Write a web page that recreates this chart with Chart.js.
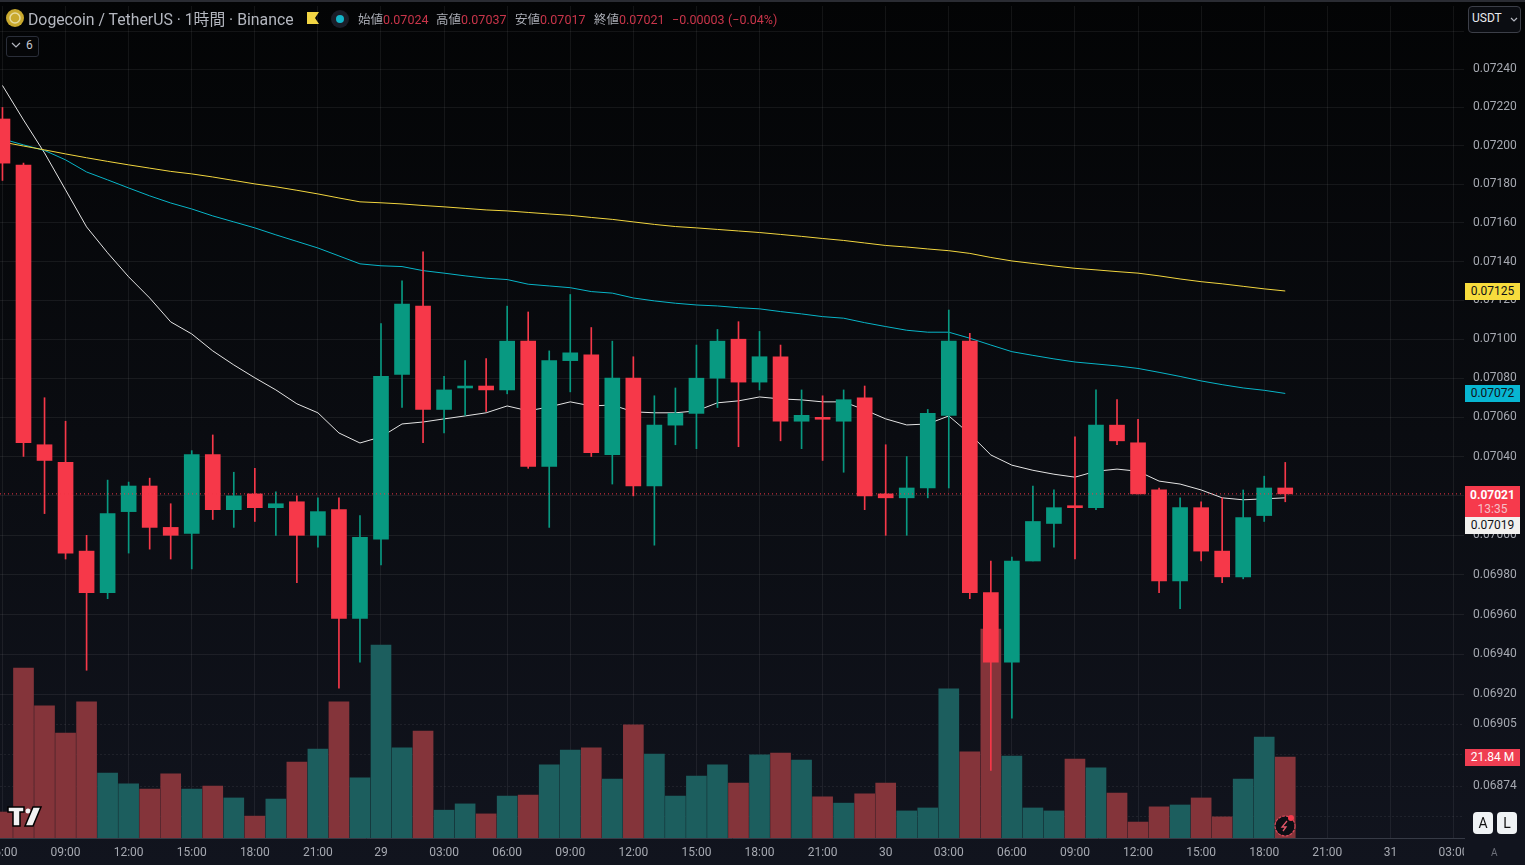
<!DOCTYPE html>
<html lang="ja">
<head>
<meta charset="utf-8">
<title>DOGEUSDT 1H</title>
<script src="https://cdn.jsdelivr.net/npm/chart.js@4"></script>
<style>
    html, body { margin: 0; padding: 0; width: 1525px; height: 865px; overflow: hidden; }
    body { background: linear-gradient(#030405 0, #0a0c11 50%, #11141e 100%); font-family: Roboto, "Noto Sans CJK JP", sans-serif; position: relative; }
    canvas { position: absolute; left: 0; top: 0; }
    .topbar { position: absolute; left: 0; top: 0; width: 1525px; height: 2px; background: #2a2c33; }
    .abs { position: absolute; white-space: nowrap; }
    .title { left: 28px; top: 10px; font-size: 15.8px; line-height: 20px; color: #b4b7bf; }
    .ohlc { top: 12px; font-size: 12.5px; line-height: 16px; color: #a9acb4; }
    .red { color: #c9354a; }
    .tag { left: 1465px; width: 55px; text-align: center; font-size: 12px; line-height: 17px; height: 17px; color: #101218; }
    .corner { left: 1464px; top: 839px; width: 61px; height: 26px; background: #11141e; }
    .btn { background: #f0f3f5; color: #111; border-radius: 4px; width: 20px; height: 22px; top: 812px; text-align: center; font-size: 14px; line-height: 22px; }
</style>
</head>
<body>
<canvas id="priceChart" width="1525" height="865"></canvas>

<div class="topbar"></div>

<!-- header -->
<svg class="abs" style="left:6px;top:9px" width="18" height="18"><circle cx="9" cy="9" r="9" fill="#c9a92e"/><circle cx="9" cy="9" r="5" fill="none" stroke="#e8dca0" stroke-width="1.5"/></svg>
<div class="abs title">Dogecoin / TetherUS · 1時間 · Binance</div>
<svg class="abs" style="left:307px;top:12px" width="13" height="13"><path d="M0 0H12L8 6L12 12H0Z" fill="#f2d544"/></svg>
<svg class="abs" style="left:331px;top:10px" width="18" height="18"><circle cx="9" cy="9" r="9" fill="#1a1d28"/><circle cx="9" cy="9" r="4" fill="#13b5c9"/></svg>
<div class="abs ohlc" style="left:358px">始値<span class="red">0.07024</span></div>
<div class="abs ohlc" style="left:436px">高値<span class="red">0.07037</span></div>
<div class="abs ohlc" style="left:515px">安値<span class="red">0.07017</span></div>
<div class="abs ohlc" style="left:594px">終値<span class="red">0.07021</span></div>
<div class="abs ohlc red" style="left:672px">−0.00003</div>
<div class="abs ohlc red" style="left:728px">(−0.04%)</div>

<div class="abs" style="left:6px;top:36px;width:31px;height:19px;border:1px solid #2a2e39;border-radius:3px;background:#050608"></div>
<svg class="abs" style="left:11px;top:42px" width="10" height="6"><path d="M1 1L5 5L9 1" fill="none" stroke="#b4b7bf" stroke-width="1.2"/></svg>
<div class="abs" style="left:26px;top:38px;font-size:12px;line-height:15px;color:#c4c7ce">6</div>

<div class="abs" style="left:1468px;top:6px;width:51px;height:25px;border:1px solid #3c3f48;border-radius:4px;background:#0b0d12"></div>
<div class="abs" style="left:1472px;top:11px;font-size:12px;line-height:15px;color:#e8eaee">USDT</div>
<svg class="abs" style="left:1510px;top:17px" width="8" height="5"><path d="M1 1L4 4L7 1" fill="none" stroke="#b4b7bf" stroke-width="1.2"/></svg>

<!-- price tags on the axis -->
<div class="abs tag" style="top:283px;background:#f7dc3d">0.07125</div>
<div class="abs tag" style="top:385px;background:#07b6d2">0.07072</div>
<div class="abs tag" style="top:486px;height:31px;background:#f63a4c;color:#fff;line-height:14px;padding-top:2px;height:29px"><b style="font-weight:700">0.07021</b><br><span style="color:#f5c0c8">13:35</span></div>
<div class="abs tag" style="top:517px;background:#f2f1ef">0.07019</div>
<div class="abs tag" style="top:749px;background:#ef3e52;color:#fff">21.84 M</div>

<!-- corner widgets -->
<svg class="abs" style="left:7px;top:806px" width="36" height="21"><path d="M1 1H17V6H13V20H6V6H1Z" fill="#f2f2f2" stroke="#000" stroke-width="1.5"/><circle cx="21" cy="5" r="2.5" fill="#f2f2f2"/><path d="M26 1H34L26 20H18Z" fill="#f2f2f2" stroke="#000" stroke-width="1.5"/></svg>
<svg class="abs" style="left:1274px;top:813px" width="24" height="24"><circle cx="11" cy="13" r="10" fill="#0c0e14" stroke="#d8495a" stroke-width="1.2" stroke-dasharray="3 1"/><path d="M13 8L8 14H12L9 18" fill="none" stroke="#e0576a" stroke-width="1.3"/><circle cx="17" cy="5" r="3" fill="#f63a4c"/></svg>
<div class="abs corner"></div>
<div class="abs btn" style="left:1473px">A</div>
<div class="abs btn" style="left:1497px">L</div>
<div class="abs" style="left:1491px;top:846px;font-size:10px;line-height:13px;color:#6d707a">A</div>

<script>
// Candles, one per hour, first one is 06:00 on the 28th
const openPrices = [0.07214, 0.07190, 0.07046, 0.07037, 0.06992, 0.06971, 0.07012, 0.07025, 0.07004, 0.07001, 0.07041, 0.07013, 0.07021, 0.07014, 0.07017, 0.07000, 0.07013, 0.06958, 0.06998, 0.07082, 0.07117, 0.07064, 0.07075, 0.07076, 0.07074, 0.07099, 0.07035, 0.07089, 0.07092, 0.07041, 0.07080, 0.07025, 0.07056, 0.07062, 0.07080, 0.07100, 0.07078, 0.07091, 0.07058, 0.07060, 0.07058, 0.07070, 0.07021, 0.07019, 0.07024, 0.07061, 0.07099, 0.06971, 0.06936, 0.06987, 0.07006, 0.07015, 0.07014, 0.07056, 0.07047, 0.07023, 0.06977, 0.07014, 0.06992, 0.06979, 0.07010, 0.07024];
const highPrices = [0.07220, 0.07191, 0.07070, 0.07058, 0.07000, 0.07028, 0.07027, 0.07029, 0.07016, 0.07043, 0.07051, 0.07032, 0.07034, 0.07022, 0.07020, 0.07019, 0.07019, 0.07010, 0.07108, 0.07130, 0.07145, 0.07081, 0.07089, 0.07090, 0.07117, 0.07114, 0.07094, 0.07123, 0.07106, 0.07099, 0.07091, 0.07071, 0.07075, 0.07097, 0.07105, 0.07109, 0.07104, 0.07097, 0.07074, 0.07071, 0.07074, 0.07076, 0.07046, 0.07040, 0.07064, 0.07115, 0.07103, 0.06987, 0.06989, 0.07025, 0.07023, 0.07050, 0.07074, 0.07069, 0.07059, 0.07024, 0.07019, 0.07017, 0.07019, 0.07023, 0.07030, 0.07037];
const lowPrices = [0.07182, 0.07040, 0.07011, 0.06988, 0.06932, 0.06968, 0.06991, 0.06993, 0.06988, 0.06983, 0.07008, 0.07004, 0.07007, 0.07000, 0.06976, 0.06994, 0.06923, 0.06936, 0.06985, 0.07065, 0.07047, 0.07052, 0.07061, 0.07063, 0.07072, 0.07034, 0.07004, 0.07073, 0.07040, 0.07026, 0.07020, 0.06995, 0.07046, 0.07044, 0.07065, 0.07045, 0.07074, 0.07048, 0.07044, 0.07038, 0.07032, 0.07013, 0.07000, 0.07000, 0.07019, 0.07024, 0.06968, 0.06882, 0.06908, 0.06987, 0.06994, 0.06988, 0.07013, 0.07046, 0.07021, 0.06971, 0.06963, 0.06987, 0.06976, 0.06978, 0.07007, 0.07017];
const closePrices = [0.07191, 0.07047, 0.07038, 0.06991, 0.06971, 0.07011, 0.07025, 0.07004, 0.07000, 0.07041, 0.07013, 0.07020, 0.07014, 0.07016, 0.07000, 0.07012, 0.06958, 0.06999, 0.07081, 0.07118, 0.07064, 0.07074, 0.07076, 0.07074, 0.07099, 0.07035, 0.07089, 0.07093, 0.07042, 0.07080, 0.07025, 0.07056, 0.07062, 0.07080, 0.07099, 0.07078, 0.07091, 0.07058, 0.07061, 0.07059, 0.07069, 0.07020, 0.07019, 0.07024, 0.07062, 0.07099, 0.06971, 0.06936, 0.06987, 0.07007, 0.07014, 0.07014, 0.07056, 0.07048, 0.07021, 0.06977, 0.07014, 0.06992, 0.06979, 0.07009, 0.07024, 0.07021];

// Volume in millions
const volumes = [7.0, 45.8, 35.6, 28.3, 36.7, 17.5, 14.6, 13.2, 17.3, 13.2, 14.0, 10.8, 5.9, 10.5, 20.5, 24.0, 36.7, 16.2, 52.0, 24.3, 28.8, 7.5, 9.2, 6.5, 11.3, 11.6, 19.7, 23.7, 24.3, 15.9, 30.5, 22.6, 11.3, 16.7, 19.7, 14.8, 22.4, 22.9, 21.0, 11.1, 9.4, 11.9, 14.8, 7.3, 8.1, 40.2, 23.2, 56.3, 22.1, 8.1, 7.3, 21.3, 18.9, 12.1, 4.3, 8.4, 8.9, 10.8, 5.7, 15.9, 27.2, 21.84];

// Moving averages
const maWhite = [0.072315, 0.072135, 0.071963, 0.071771, 0.071579, 0.071445, 0.071321, 0.071212, 0.071089, 0.071027, 0.070940, 0.070868, 0.070802, 0.070740, 0.070669, 0.070623, 0.070520, 0.070469, 0.070500, 0.070566, 0.070576, 0.070592, 0.070607, 0.070623, 0.070658, 0.070633, 0.070653, 0.070679, 0.070658, 0.070663, 0.070628, 0.070623, 0.070623, 0.070633, 0.070674, 0.070684, 0.070704, 0.070694, 0.070689, 0.070679, 0.070679, 0.070638, 0.070592, 0.070561, 0.070566, 0.070607, 0.070515, 0.070408, 0.070356, 0.070330, 0.070310, 0.070295, 0.070325, 0.070336, 0.070325, 0.070275, 0.070260, 0.070230, 0.070190, 0.070180, 0.070185, 0.070190];
const maTeal = [0.072036, 0.072005, 0.071976, 0.071927, 0.071864, 0.071823, 0.071781, 0.071740, 0.071703, 0.071672, 0.071636, 0.071605, 0.071574, 0.071538, 0.071504, 0.071470, 0.071429, 0.071388, 0.071378, 0.071374, 0.071353, 0.071340, 0.071326, 0.071314, 0.071307, 0.071283, 0.071274, 0.071265, 0.071245, 0.071237, 0.071212, 0.071197, 0.071185, 0.071176, 0.071171, 0.071162, 0.071156, 0.071142, 0.071130, 0.071116, 0.071108, 0.071085, 0.071065, 0.071046, 0.071036, 0.071036, 0.071005, 0.070970, 0.070936, 0.070917, 0.070899, 0.070883, 0.070873, 0.070863, 0.070850, 0.070830, 0.070809, 0.070786, 0.070767, 0.070750, 0.070738, 0.070722];
const maYellow = [0.072020, 0.071999, 0.071979, 0.071958, 0.071938, 0.071919, 0.071901, 0.071884, 0.071867, 0.071854, 0.071838, 0.071820, 0.071802, 0.071787, 0.071769, 0.071750, 0.071729, 0.071709, 0.071704, 0.071698, 0.071690, 0.071683, 0.071675, 0.071667, 0.071662, 0.071654, 0.071646, 0.071639, 0.071628, 0.071618, 0.071605, 0.071592, 0.071581, 0.071574, 0.071566, 0.071558, 0.071550, 0.071540, 0.071530, 0.071519, 0.071509, 0.071496, 0.071483, 0.071475, 0.071465, 0.071456, 0.071442, 0.071421, 0.071403, 0.071390, 0.071377, 0.071365, 0.071357, 0.071348, 0.071340, 0.071326, 0.071310, 0.071296, 0.071285, 0.071272, 0.071259, 0.071248];

// Axis ticks, the two last-but-one levels sit behind the tag and the A/L buttons
const priceTicks = [0.0726, 0.0724, 0.0722, 0.0720, 0.0718, 0.0716, 0.0714, 0.0712, 0.0710, 0.0708, 0.0706, 0.0704, 0.0702, 0.0700, 0.0698, 0.0696, 0.0694, 0.0692, 0.06905, 0.0689, 0.06874, 0.06859];
const hiddenPriceLabels = [0.0726, 0.0689, 0.06859];
const timeTickIndexes = [0, 3, 6, 9, 12, 15, 18, 21, 24, 27, 30, 33, 36, 39, 42, 45, 48, 51, 54, 57, 60, 63, 66, 69];
const timeTickLabels = ['06:00', '09:00', '12:00', '15:00', '18:00', '21:00', '29', '03:00', '06:00', '09:00', '12:00', '15:00', '18:00', '21:00', '30', '03:00', '06:00', '09:00', '12:00', '15:00', '18:00', '21:00', '31', '03:00'];

const UP_COLOR = '#089981';
const DOWN_COLOR = '#f63849';
const UP_VOLUME = '#1c5e5e';
const DOWN_VOLUME = '#84343a';
const TEXT_COLOR = '#a6a9b1';
const GRID_COLOR = 'rgba(255, 255, 255, 0.065)';

const xMin = -0.1175;
const xMax = 69.5;

const isUp = openPrices.map((open, i) => closePrices[i] >= open);
const candleColors = isUp.map(up => up ? UP_COLOR : DOWN_COLOR);
const volumeColors = isUp.map(up => up ? UP_VOLUME : DOWN_VOLUME);

// Keep the first and last tick labels from pushing the plot area inwards
function noAxisPadding(axis) {
    axis.paddingLeft = 0;
    axis.paddingRight = 0;
    axis.paddingTop = 0;
    axis.paddingBottom = 0;
}

const ctx = document.getElementById('priceChart').getContext('2d');

new Chart(ctx, {
    data: {
        datasets: [
            {
                type: 'bar',
                label: 'Volume',
                yAxisID: 'volume',
                data: volumes.map((v, i) => ({ x: i, y: v })),
                backgroundColor: volumeColors,
                barThickness: 20,
                grouped: false,
                order: 6
            },
            {
                type: 'line',
                label: 'MA long',
                yAxisID: 'price',
                data: maYellow.map((v, i) => ({ x: i, y: v })),
                borderColor: '#f2d63f',
                borderWidth: 1,
                pointRadius: 0,
                order: 5
            },
            {
                type: 'line',
                label: 'MA mid',
                yAxisID: 'price',
                data: maTeal.map((v, i) => ({ x: i, y: v })),
                borderColor: '#08b5c8',
                borderWidth: 1,
                pointRadius: 0,
                order: 5
            },
            {
                type: 'line',
                label: 'MA short',
                yAxisID: 'price',
                data: maWhite.map((v, i) => ({ x: i, y: v })),
                borderColor: '#e4e4e4',
                borderWidth: 1,
                pointRadius: 0,
                order: 5
            },
            {
                type: 'bar',
                label: 'Wick',
                yAxisID: 'price',
                data: lowPrices.map((low, i) => ({ x: i, y: [low, highPrices[i]] })),
                backgroundColor: candleColors,
                barThickness: 1,
                grouped: false,
                order: 3
            },
            {
                type: 'bar',
                label: 'Body',
                yAxisID: 'price',
                data: openPrices.map((open, i) => ({ x: i, y: [open, closePrices[i]] })),
                backgroundColor: candleColors,
                barThickness: 15,
                grouped: false,
                order: 2
            },
            {
                // last price line across the whole pane
                type: 'line',
                label: 'Last',
                yAxisID: 'price',
                data: [{ x: xMin, y: closePrices[61] }, { x: xMax, y: closePrices[61] }],
                borderColor: '#f23645',
                borderWidth: 1,
                borderDash: [1, 3],
                pointRadius: 0,
                order: 1
            }
        ]
    },
    options: {
        responsive: false,
        animation: false,
        events: [],
        layout: { padding: { top: 6, left: 0, right: 0, bottom: 0 } },
        plugins: { legend: { display: false }, tooltip: { enabled: false } },
        scales: {
            x: {
                type: 'linear',
                position: 'bottom',
                offset: false,
                min: xMin,
                max: xMax,
                afterFit: axis => { axis.height = 27; noAxisPadding(axis); },
                afterBuildTicks: axis => { axis.ticks = timeTickIndexes.map(v => ({ value: v })); },
                grid: { color: GRID_COLOR, tickLength: 0, offset: false },
                border: { color: '#363a45' },
                ticks: {
                    autoSkip: false,
                    maxRotation: 0,
                    minRotation: 0,
                    padding: 8,
                    color: TEXT_COLOR,
                    font: { family: 'Roboto', size: 12 },
                    callback: value => timeTickLabels[timeTickIndexes.indexOf(value)]
                }
            },
            price: {
                type: 'logarithmic',
                position: 'right',
                min: 0.068484,
                max: 0.072732,
                afterFit: axis => { axis.width = 61; noAxisPadding(axis); },
                afterBuildTicks: axis => { axis.ticks = priceTicks.map(v => ({ value: v })); },
                grid: { color: GRID_COLOR, tickLength: 0 },
                border: {
                    display: false,
                    dash: c => (c.tick && c.tick.value < 0.0692 ? [2, 2] : [])
                },
                ticks: {
                    autoSkip: false,
                    padding: 9,
                    color: TEXT_COLOR,
                    font: { family: 'Roboto', size: 12 },
                    callback: value => (hiddenPriceLabels.includes(value) ? '' : value.toFixed(5))
                }
            },
            volume: {
                type: 'linear',
                display: false,
                min: 0,
                max: 224.3
            }
        }
    }
});
</script>
</body>
</html>
